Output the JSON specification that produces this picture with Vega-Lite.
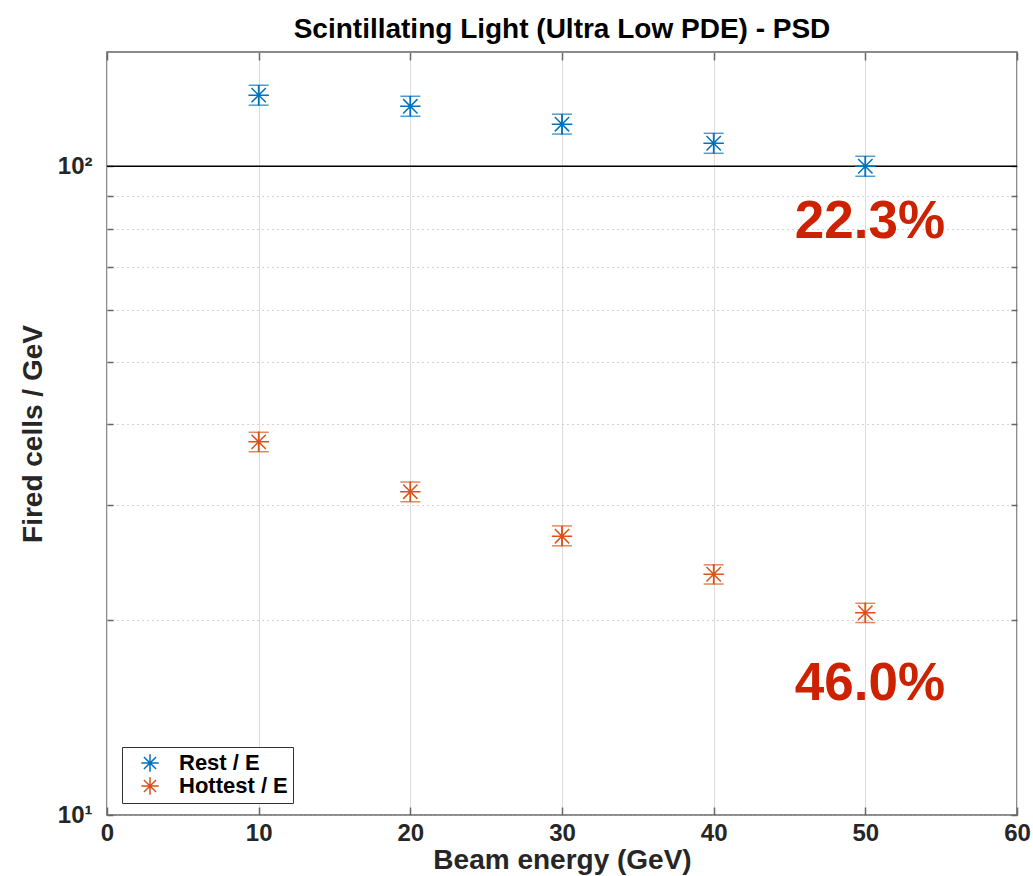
{
  "$schema": "https://vega.github.io/schema/vega-lite/v6.json",
  "width": 910,
  "height": 763,
  "autosize": {"type": "none"},
  "padding": {"left": 107, "top": 52, "right": 16, "bottom": 61},
  "background": "white",
  "title": {"text": "Scintillating Light (Ultra Low PDE) -  PSD", "font": "Liberation Sans", "fontSize": 28, "fontWeight": "bold", "color": "#000000", "anchor": "middle", "offset": -15, "baseline": "alphabetic"},
  "config": {"view": {"stroke": "#666666", "strokeWidth": 1.5}, "font": "Liberation Sans",
    "legend": {"orient": "none", "legendX": 15, "legendY": 695, "title": null,
      "symbolType": "M-1,0L1,0M0,-1L0,1M-0.7,-0.7L0.7,0.7M-0.7,0.7L0.7,-0.7",
      "symbolSize": 300, "symbolStrokeWidth": 1.5, "symbolOffset": 12, "symbolOpacity": 1,
      "labelFont": "Liberation Sans", "labelFontSize": 22, "labelFontWeight": "bold", "labelColor": "#000000", "labelOffset": 18,
      "strokeColor": "#333333", "fillColor": "white", "padding": 5, "rowPadding": -5}},
  "datasets": {
    "pts": [
      {"E": 10, "v": 128.7, "lo": 124.2, "hi": 133.3, "series": "Rest / E"},
      {"E": 20, "v": 123.7, "lo": 119.4, "hi": 128.2, "series": "Rest / E"},
      {"E": 30, "v": 116.1, "lo": 112.1, "hi": 120.3, "series": "Rest / E"},
      {"E": 40, "v": 108.5, "lo": 104.7, "hi": 112.4, "series": "Rest / E"},
      {"E": 50, "v": 100.0, "lo": 96.5, "hi": 103.6, "series": "Rest / E"},
      {"E": 10, "v": 37.6, "lo": 36.3, "hi": 38.9, "series": "Hottest / E"},
      {"E": 20, "v": 31.5, "lo": 30.4, "hi": 32.6, "series": "Hottest / E"},
      {"E": 30, "v": 26.9, "lo": 26.0, "hi": 27.9, "series": "Hottest / E"},
      {"E": 40, "v": 23.5, "lo": 22.7, "hi": 24.3, "series": "Hottest / E"},
      {"E": 50, "v": 20.5, "lo": 19.8, "hi": 21.2, "series": "Hottest / E"}
    ],
    "notes": [
      {"E": 50.3, "v": 82.0, "label": "22.3%"},
      {"E": 50.3, "v": 15.9, "label": "46.0%"}
    ],
    "ref": [{"v": 100}]
  },
  "resolve": {"axis": {"x": "independent", "y": "independent"}},
  "layer": [
    {
      "data": {"name": "ref"},
      "mark": {"type": "rule", "color": "#000000", "strokeWidth": 1.5},
      "encoding": {
        "y": {"field": "v", "type": "quantitative",
          "scale": {"type": "log", "domain": [10, 150], "nice": false},
          "axis": {"orient": "left", "values": [10, 20, 30, 40, 50, 60, 70, 80, 90, 100],
            "labelExpr": "datum.value == 100 ? '10²' : datum.value == 10 ? '10¹' : ''",
            "grid": true, "gridDash": [1, 4], "gridColor": "#aaaaaa", "gridWidth": 1,
            "domain": false, "tickSize": -6, "tickColor": "#666666", "tickWidth": 1.5,
            "labelFont": "Liberation Sans", "labelFontSize": 24, "labelFontWeight": "bold", "labelColor": "#262626", "labelPadding": 21,
            "title": "Fired cells / GeV", "titleFont": "Liberation Sans", "titleFontSize": 28, "titleFontWeight": "bold", "titleColor": "#262626", "titlePadding": 10}
        }
      }
    },
    {
      "data": {"name": "pts"},
      "mark": {"type": "rule", "strokeWidth": 1.5},
      "encoding": {
        "x": {"field": "E", "type": "quantitative",
          "scale": {"domain": [0, 60], "nice": false, "zero": false},
          "axis": {"orient": "bottom", "values": [0, 10, 20, 30, 40, 50, 60],
            "grid": true, "gridColor": "#dddddd", "gridWidth": 1,
            "domain": false, "tickSize": -8, "tickColor": "#666666", "tickWidth": 1.5,
            "labelFont": "Liberation Sans", "labelFontSize": 24, "labelFontWeight": "bold", "labelColor": "#262626", "labelPadding": 14, "labelFlush": false,
            "title": "Beam energy (GeV)", "titleFont": "Liberation Sans", "titleFontSize": 28, "titleFontWeight": "bold", "titleColor": "#262626", "titlePadding": 1}},
        "y": {"field": "lo", "type": "quantitative", "scale": {"type": "log", "domain": [10, 150], "nice": false}, "axis": null},
        "y2": {"field": "hi"},
        "color": {"field": "series", "type": "nominal", "scale": {"domain": ["Rest / E", "Hottest / E"], "range": ["#0072BD", "#D95319"]}}
      }
    },
    {
      "data": {"name": "pts"},
      "mark": {"type": "tick", "orient": "horizontal", "size": 20, "thickness": 1.5},
      "encoding": {
        "x": {"field": "E", "type": "quantitative", "scale": {"domain": [0, 60], "nice": false, "zero": false}, "axis": null},
        "y": {"field": "lo", "type": "quantitative", "scale": {"type": "log", "domain": [10, 150], "nice": false}, "axis": null},
        "color": {"field": "series", "type": "nominal"}
      }
    },
    {
      "data": {"name": "pts"},
      "mark": {"type": "tick", "orient": "horizontal", "size": 20, "thickness": 1.5},
      "encoding": {
        "x": {"field": "E", "type": "quantitative", "scale": {"domain": [0, 60], "nice": false, "zero": false}, "axis": null},
        "y": {"field": "hi", "type": "quantitative", "scale": {"type": "log", "domain": [10, 150], "nice": false}, "axis": null},
        "color": {"field": "series", "type": "nominal"}
      }
    },
    {
      "data": {"name": "pts"},
      "mark": {"type": "point", "shape": "M-1,0L1,0M0,-1L0,1M-0.7,-0.7L0.7,0.7M-0.7,0.7L0.7,-0.7", "filled": false, "size": 420, "strokeWidth": 1.5, "opacity": 1},
      "encoding": {
        "x": {"field": "E", "type": "quantitative", "scale": {"domain": [0, 60], "nice": false, "zero": false},
          "axis": {"orient": "top", "values": [0, 10, 20, 30, 40, 50, 60], "labels": false, "grid": false, "domain": false, "tickSize": -8, "tickColor": "#666666", "tickWidth": 1.5, "title": null}},
        "y": {"field": "v", "type": "quantitative", "scale": {"type": "log", "domain": [10, 150], "nice": false},
          "axis": {"orient": "right", "values": [10, 20, 30, 40, 50, 60, 70, 80, 90, 100], "labels": false, "grid": false, "domain": false, "tickSize": -6, "tickColor": "#666666", "tickWidth": 1.5, "title": null}},
        "color": {"field": "series", "type": "nominal"}
      }
    },
    {
      "data": {"name": "notes"},
      "mark": {"type": "text", "font": "Liberation Sans", "fontSize": 53, "fontWeight": "bold", "color": "#CC2200", "align": "center", "baseline": "middle"},
      "encoding": {
        "x": {"field": "E", "type": "quantitative", "scale": {"domain": [0, 60], "nice": false, "zero": false}, "axis": null},
        "y": {"field": "v", "type": "quantitative", "scale": {"type": "log", "domain": [10, 150], "nice": false}, "axis": null},
        "text": {"field": "label"}
      }
    }
  ]
}
